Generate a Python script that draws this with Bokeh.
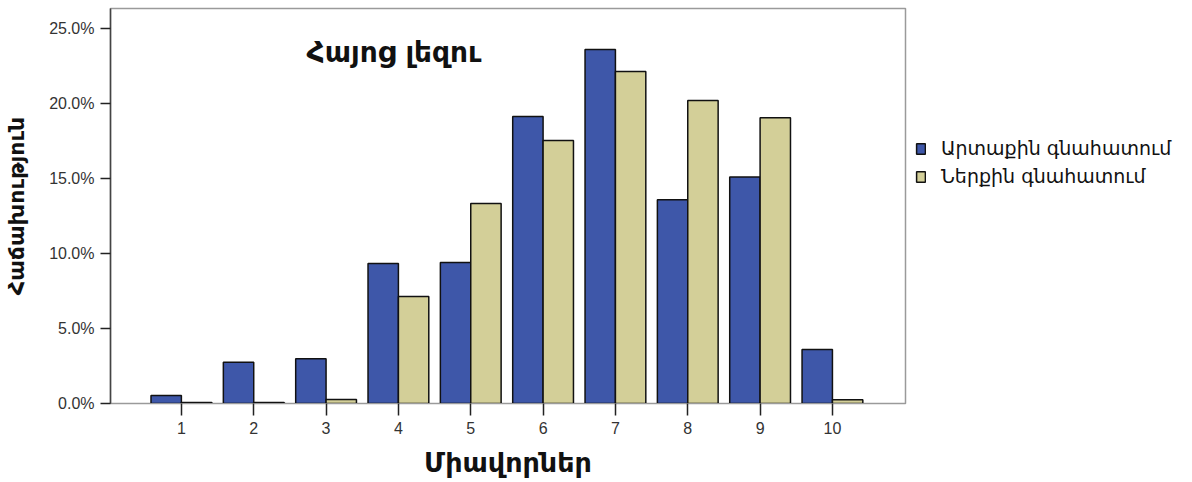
from bokeh.plotting import figure
from bokeh.models import (Range1d, FixedTicker, PrintfTickFormatter, Legend, LegendItem,
                          Label, ColumnDataSource)
from bokeh.transform import dodge
from bokeh.embed import file_html
from bokeh.resources import INLINE

# ---- data ----
scores = [1, 2, 3, 4, 5, 6, 7, 8, 9, 10]
external = [0.53, 2.75, 2.98, 9.33, 9.40, 19.13, 23.60, 13.58, 15.09, 3.60]
internal = [0.07, 0.07, 0.27, 7.13, 13.33, 17.53, 22.13, 20.20, 19.05, 0.25]
y_ticks = [0, 5, 10, 15, 20, 25]
series_names = ["Արտաքին գնահատում", "Ներքին գնահատում"]
title_text = "Հայոց լեզու"
x_label = "Միավորներ"
y_label = "Հաճախություն"

BLUE = "#3e57a9"
KHAKI = "#d3cf98"
ARM_FONT = "DejaVu Sans"
NUM_FONT = "Liberation Sans"

src = ColumnDataSource(dict(score=scores, ext=external, inn=internal))

p = figure(frame_width=795, frame_height=395, output_backend="svg", toolbar_location=None,
           x_range=Range1d(0.02, 11.01), y_range=Range1d(0, 26.33),
           min_border_left=110, min_border_right=0, min_border_top=8,
           min_border_bottom=66)
p.grid.visible = False
p.outline_line_color = "#9a9a9a"
p.outline_line_width = 1.5
p.background_fill_color = "white"
p.border_fill_color = "white"

bw = 0.42
r1 = p.vbar(x=dodge("score", -bw / 2, range=p.x_range), top="ext", width=bw, source=src,
            fill_color=BLUE, line_color="#111111", line_width=1.5)
r2 = p.vbar(x=dodge("score", bw / 2, range=p.x_range), top="inn", width=bw, source=src,
            fill_color=KHAKI, line_color="#111111", line_width=1.5)

# axes
p.xaxis.ticker = FixedTicker(ticks=scores)
p.yaxis.ticker = FixedTicker(ticks=y_ticks)
p.yaxis.formatter = PrintfTickFormatter(format="%.1f%%")
for ax in (p.xaxis[0], p.yaxis[0]):
    ax.minor_tick_line_color = None
    ax.major_tick_in = 0
    ax.major_tick_line_color = "#222222"
    ax.major_tick_line_width = 1.5
    ax.major_label_text_font = NUM_FONT
    ax.major_label_text_color = "#333333"
    ax.axis_label_text_font = ARM_FONT
    ax.axis_label_text_font_style = "bold"
    ax.axis_label_text_color = "#111111"
p.xaxis.major_label_text_font_size = "16px"
p.yaxis.major_label_text_font_size = "16px"
p.xaxis.major_tick_out = 12
p.yaxis.major_tick_out = 10
p.xaxis.axis_line_color = "#9a9a9a"
p.yaxis.axis_line_color = "#444444"
p.yaxis.axis_line_width = 1.5
p.xaxis.major_label_standoff = 6
p.yaxis.major_label_standoff = 6
p.xaxis.axis_label = x_label
p.yaxis.axis_label = y_label
p.xaxis.axis_label_text_font_size = "27px"
p.yaxis.axis_label_text_font_size = "22px"
p.xaxis.axis_label_standoff = 10
p.yaxis.axis_label_standoff = 17

# title inside the plot
p.add_layout(Label(x=196, y=351, x_units="screen", y_units="screen", text=title_text,
                   text_font=ARM_FONT, text_font_style="bold", text_font_size="28px",
                   text_baseline="middle", text_color="#111111"))

legend = Legend(items=[LegendItem(label=series_names[0], renderers=[r1]),
                       LegendItem(label=series_names[1], renderers=[r2])],
                location=(10, 216), orientation="vertical",
                padding=0, margin=0, spacing=6, glyph_width=11, glyph_height=13,
                label_standoff=15, label_height=20,
                label_text_font=ARM_FONT, label_text_font_size="19px",
                label_text_color="#111111",
                border_line_color=None, background_fill_alpha=0)
p.add_layout(legend, "right")

open("out.html", "w").write(file_html(p, INLINE))
